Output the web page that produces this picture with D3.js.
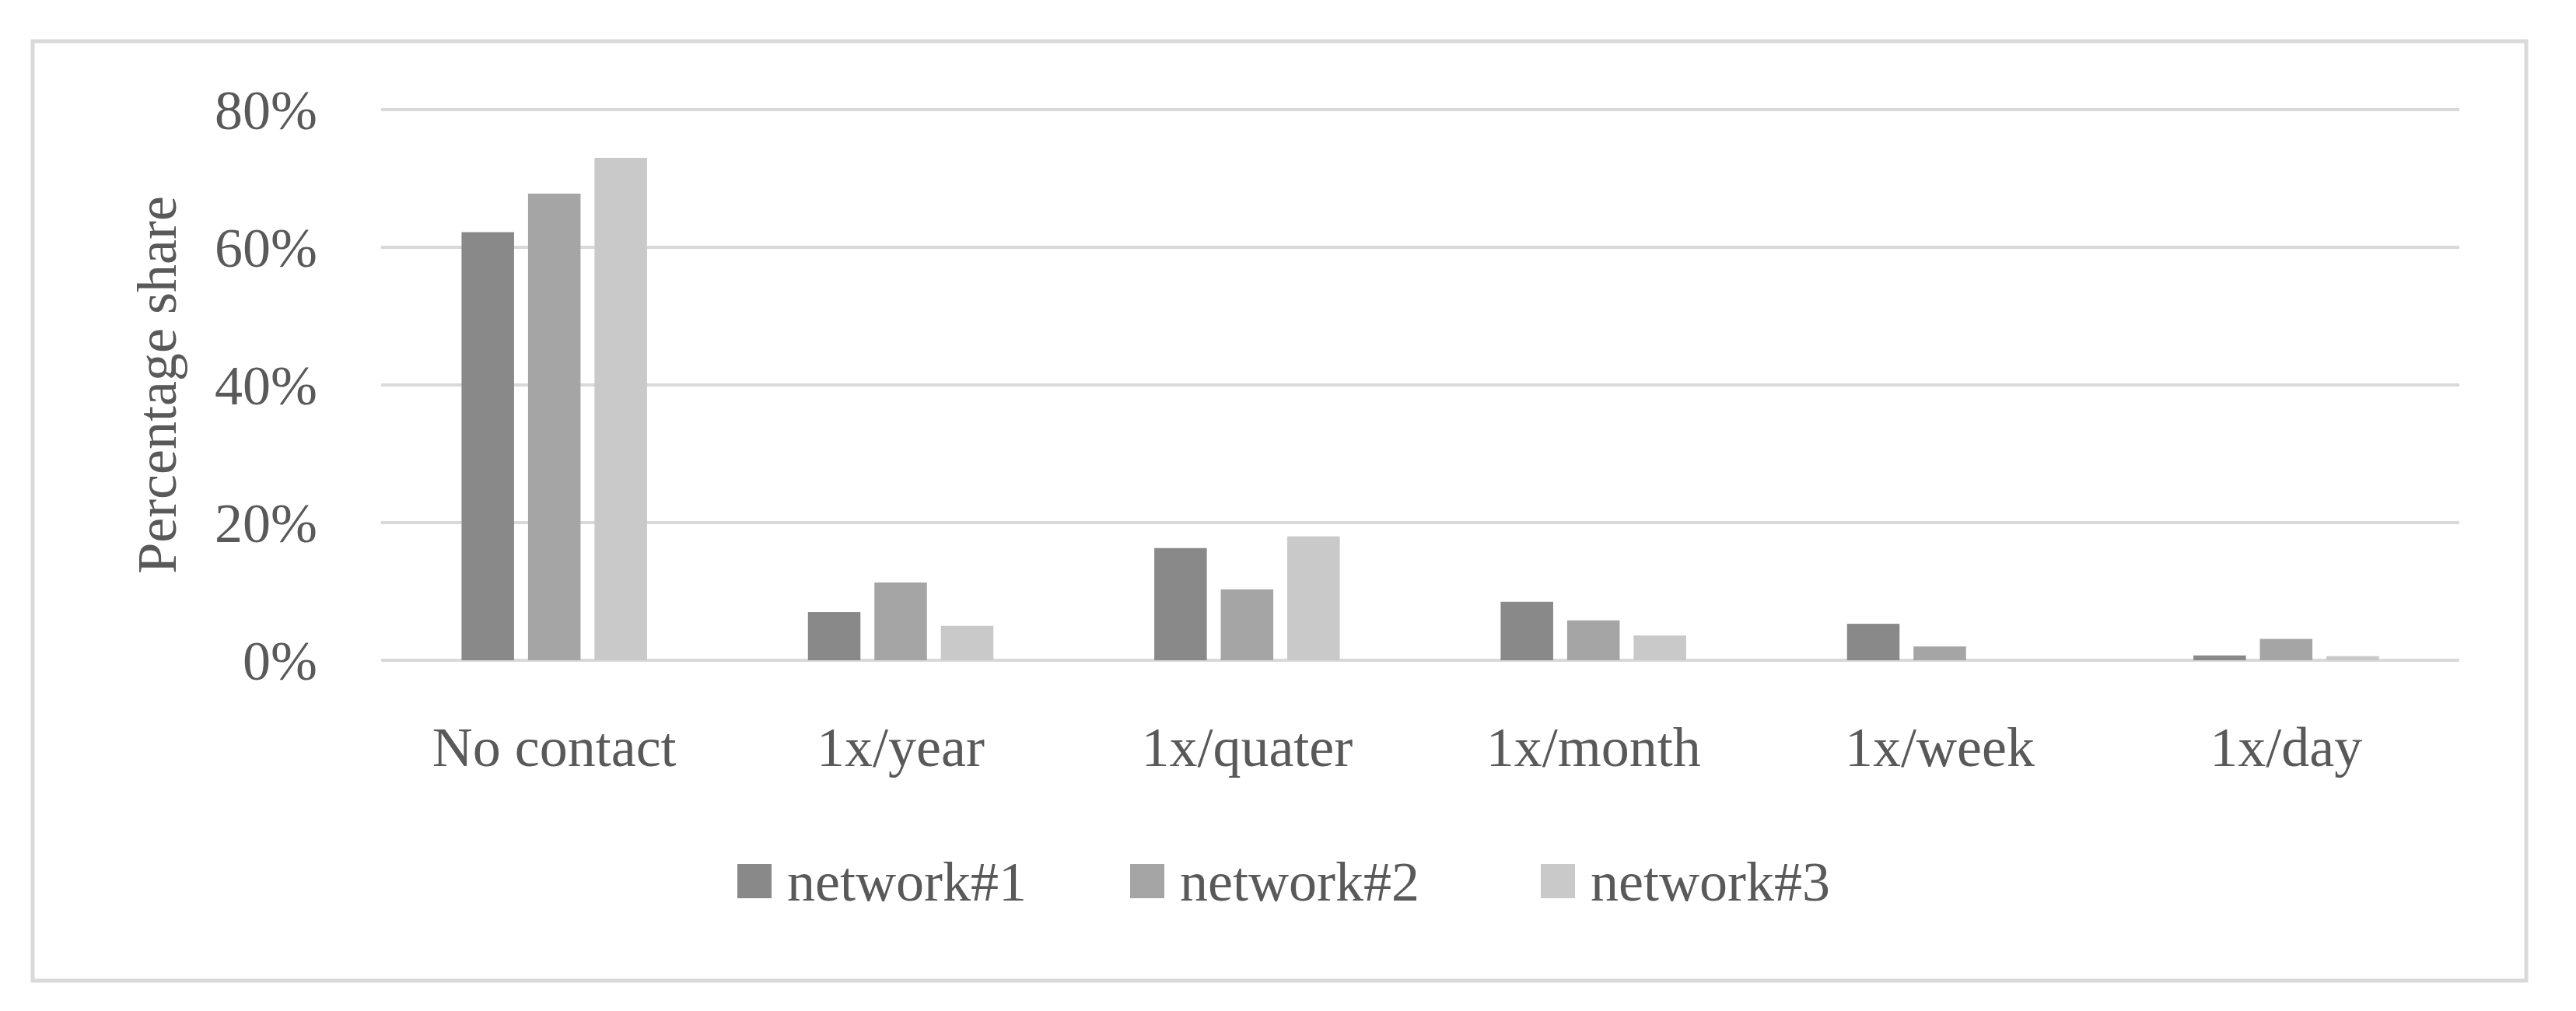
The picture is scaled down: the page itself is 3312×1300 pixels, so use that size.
<!DOCTYPE html>
<html>
<head>
<meta charset="utf-8">
<script src="https://cdn.jsdelivr.net/npm/d3@7"></script>
<style>
  body { margin: 0; background: #fff; }
  text { font-family: "Liberation Serif", serif; fill: #595959; }
</style>
</head>
<body>
<div id="chart"></div>
<script>
// ---------- Data ----------
const categories = ['No contact', '1x/year', '1x/quater', '1x/month', '1x/week', '1x/day'];
const seriesNames = ['network#1', 'network#2', 'network#3'];
const network1 = [62.2, 7.0, 16.3, 8.5, 5.3, 0.7];
const network2 = [67.8, 11.3, 10.3, 5.8, 2.0, 3.1];
const network3 = [73.0, 5.0, 18.0, 3.6, 0.0, 0.6];
const yTicks = [0, 20, 40, 60, 80];
const colors = ['#898989', '#a5a5a5', '#c9c9c9'];

const W = 3312, H = 1300;
const plot = { left: 490, right: 3162, top: 141, bottom: 849 };

const svg = d3.select('#chart').append('svg')
  .attr('width', W).attr('height', H);

// outer frame
svg.append('rect')
  .attr('x', 42).attr('y', 53).attr('width', 3206).attr('height', 1208)
  .attr('fill', 'none').attr('stroke', '#d9d9d9').attr('stroke-width', 5);

const x0 = d3.scaleBand().domain(categories).range([plot.left, plot.right]).paddingInner(0).paddingOuter(0);
const x1 = d3.scaleBand().domain(seriesNames).range([0, x0.bandwidth()])
  .paddingInner(0.21).paddingOuter(1.21);
const y = d3.scaleLinear().domain([0, 80]).range([plot.bottom, plot.top]);

// gridlines
svg.append('g').selectAll('line').data(yTicks).join('line')
  .attr('x1', plot.left).attr('x2', plot.right)
  .attr('y1', d => y(d)).attr('y2', d => y(d))
  .attr('stroke', '#d9d9d9').attr('stroke-width', 4);

// y tick labels
svg.append('g').selectAll('text').data(yTicks).join('text')
  .attr('x', 408).attr('y', d => y(d)).attr('dy', '0.35em')
  .attr('text-anchor', 'end').attr('font-size', 72)
  .text(d => d + '%');

// y axis title
svg.append('text')
  .attr('transform', 'translate(201,495) rotate(-90)')
  .attr('text-anchor', 'middle').attr('dy', '0.35em').attr('font-size', 72)
  .text('Percentage share');

// bars
const series = [network1, network2, network3];
const rows = categories.map((c, i) => ({ c, vals: series.map((s, k) => ({ k, v: s[i] })) }));
const groups = svg.append('g').selectAll('g').data(rows).join('g')
  .attr('transform', d => `translate(${x0(d.c)},0)`);
groups.selectAll('rect').data(d => d.vals).join('rect')
  .attr('x', d => x1(seriesNames[d.k]))
  .attr('width', x1.bandwidth())
  .attr('y', d => y(d.v))
  .attr('height', d => y(0) - y(d.v))
  .attr('fill', d => colors[d.k]);

// category labels
svg.append('g').selectAll('text').data(categories).join('text')
  .attr('x', d => x0(d) + x0.bandwidth() / 2).attr('y', 985)
  .attr('text-anchor', 'middle').attr('font-size', 72)
  .text(d => d);

// legend
const legendX = [948, 1453, 1981];
const lg = svg.append('g').selectAll('g').data(seriesNames).join('g')
  .attr('transform', (d, i) => `translate(${legendX[i]},1133)`);
lg.append('rect').attr('x', 0).attr('y', -22).attr('width', 44).attr('height', 44)
  .attr('fill', (d, i) => colors[i]);
lg.append('text').attr('x', 64).attr('dy', '0.35em').attr('font-size', 72).text(d => d);
</script>
</body>
</html>
